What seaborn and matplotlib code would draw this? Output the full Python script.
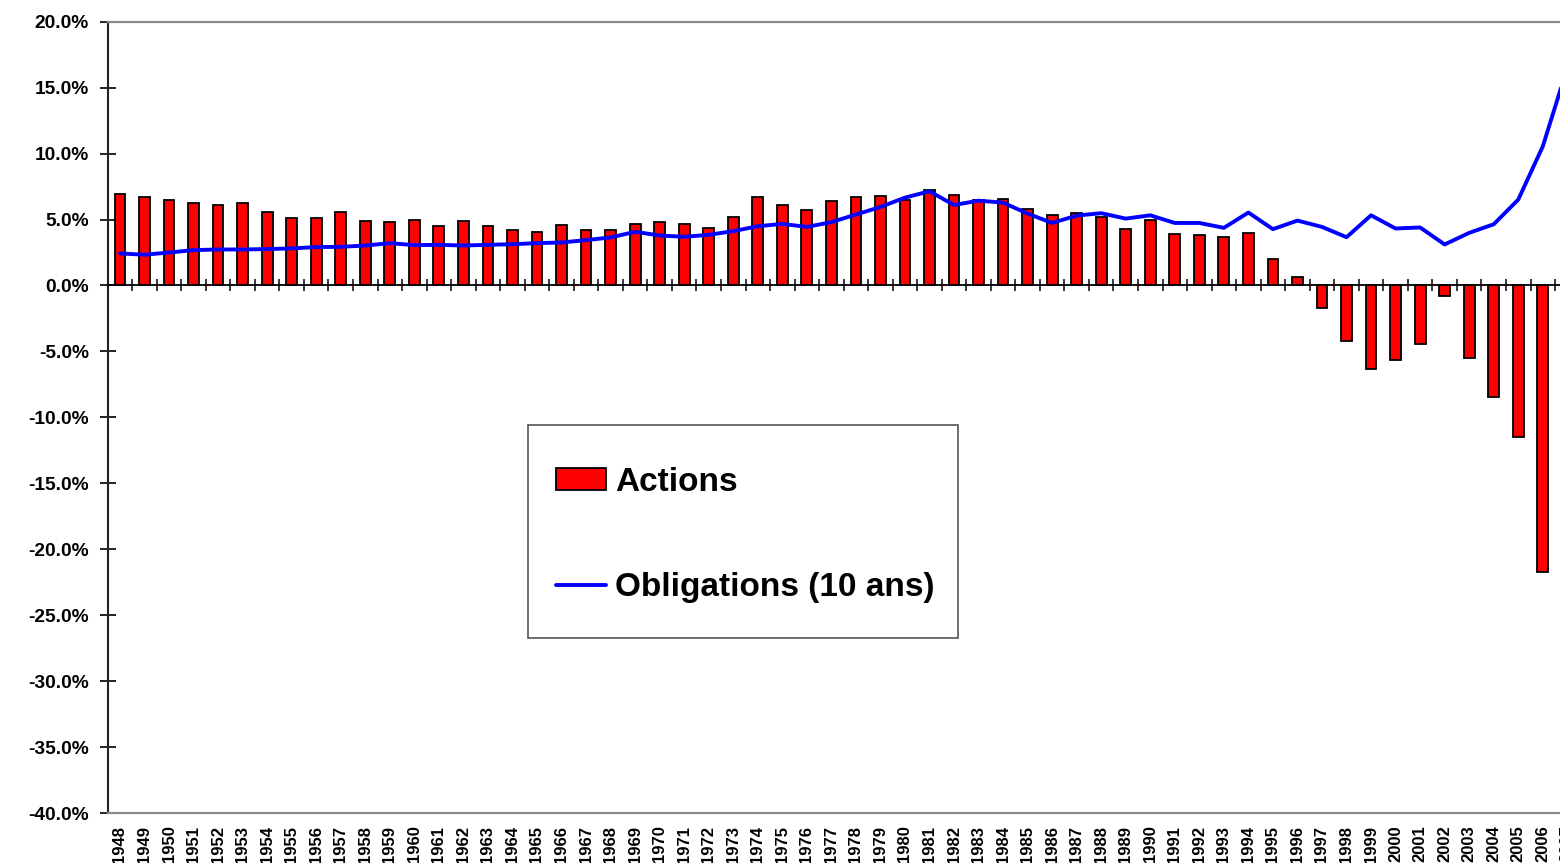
import numpy as np
import pandas as pd
import matplotlib
matplotlib.use("Agg")
import matplotlib.pyplot as plt
from matplotlib.patches import Rectangle
from matplotlib.ticker import FuncFormatter, FixedLocator
import seaborn as sns

# Années (axe des catégories)
annees = [str(a) for a in range(1948, 2008)]

# Rendement des actions (%), barres
actions = [
    6.95, 6.74, 6.47, 6.29, 6.09, 6.25, 5.54, 5.08, 5.11, 5.54,
    4.91, 4.81, 4.93, 4.51, 4.89, 4.53, 4.24, 4.09, 4.55, 4.19,
    4.17, 4.64, 4.82, 4.67, 4.37, 5.20, 6.68, 6.13, 5.75, 6.43,
    6.71, 6.81, 6.46, 7.21, 6.89, 6.46, 6.58, 5.80, 5.32, 5.53,
    5.20, 4.27, 5.00, 3.89, 3.84, 3.64, 3.99, 1.98, 0.67, -1.70,
    -4.19, -6.33, -5.63, -4.47, -0.79, -5.53, -8.45, -11.52, -21.69, np.nan,
]

# Rendement des obligations à 10 ans (%), courbe
obligations = [
    2.43, 2.33, 2.50, 2.68, 2.73, 2.73, 2.76, 2.81, 2.91, 2.93,
    3.03, 3.21, 3.06, 3.08, 3.03, 3.08, 3.13, 3.21, 3.26, 3.44,
    3.64, 4.07, 3.79, 3.69, 3.84, 4.12, 4.49, 4.67, 4.44, 4.80,
    5.38, 5.95, 6.66, 7.14, 6.10, 6.43, 6.28, 5.45, 4.74, 5.30,
    5.48, 5.07, 5.32, 4.74, 4.74, 4.37, 5.53, 4.27, 4.92, 4.44,
    3.66, 5.32, 4.32, 4.40, 3.11, 3.99, 4.64, 6.51, 10.54, 16.5,
]

y_ticks = list(range(-40, 25, 5))

df = pd.DataFrame({"annee": annees, "actions": actions, "obligations": obligations})
pos = np.arange(len(annees))

sns.set_style("white")
plt.rcParams["font.family"] = ["Liberation Sans", "DejaVu Sans"]
plt.rcParams["font.weight"] = "bold"
for key in ["text.color", "axes.labelcolor", "xtick.color", "ytick.color"]:
    plt.rcParams[key] = "black"

W, H = 1560, 863
fig = plt.figure(figsize=(W / 100, H / 100), dpi=100)
ax = fig.add_axes([0.06904, 0.0578, 0.9435, 0.9171])

sns.barplot(data=df, x="annee", y="actions", color="#FF0000", saturation=1,
            edgecolor="black", linewidth=1.3, width=0.44, label="Actions",
            legend=False, ax=ax)
sns.lineplot(x=pos, y=df["obligations"].to_numpy(), color="#0000FF", linewidth=2.8,
             label="Obligations (10 ans)", legend=False, ax=ax)
if ax.get_legend() is not None:
    ax.get_legend().remove()

ax.set_xlim(-0.5, len(annees) - 0.5)
ax.set_ylim(-40, 20)
ax.set_xlabel("")
ax.set_ylabel("")

# Axe vertical
ax.yaxis.set_major_locator(FixedLocator(y_ticks))
ax.yaxis.set_major_formatter(FuncFormatter(lambda v, p: f"{v:.1f}%"))
ax.tick_params(axis="y", direction="inout", length=11, width=1.2, color="black",
               labelcolor="black", pad=8, labelsize=13.8, left=True)
for lab in ax.get_yticklabels():
    lab.set_fontweight("bold")

# Étiquettes des années en bas du graphique
ax.set_xticks(pos)
ax.set_xticklabels(annees, rotation=90, fontsize=12, fontweight="bold", color="black")
ax.tick_params(axis="x", length=0, pad=9, bottom=True)

for side in ["top", "bottom", "right"]:
    ax.spines[side].set_color("#8a8a8a")
    ax.spines[side].set_linewidth(1.6)
ax.spines["left"].set_color("#222222")
ax.spines["left"].set_linewidth(1.5)

# Ligne du zéro avec graduations entre les catégories
ax0 = ax.twiny()
ax0.set_xlim(ax.get_xlim())
ax0.patch.set_visible(False)
for side in ["top", "left", "right"]:
    ax0.spines[side].set_visible(False)
ax0.spines["bottom"].set_position(("data", 0))
ax0.spines["bottom"].set_color("black")
ax0.spines["bottom"].set_linewidth(1.3)
ax0.xaxis.set_ticks_position("bottom")
ax0.set_xticks(pos[1:] - 0.5)
ax0.tick_params(axis="x", direction="inout", length=8, width=1.1, color="black",
                labelbottom=False, labeltop=False, top=False)

# Légende : cadre puis entrées
cadre = Rectangle((528.3 / W, 1 - 637.7 / H), (957.7 - 528.3) / W, (637.7 - 425) / H,
                  transform=fig.transFigure, facecolor="white", edgecolor="#555555",
                  linewidth=1.2, zorder=4)
fig.add_artist(cadre)

handles, labels = ax.get_legend_handles_labels()
ordre = [labels.index("Actions"), labels.index("Obligations (10 ans)")]
leg = fig.legend([handles[i] for i in ordre], [labels[i] for i in ordre],
                 loc="upper left", bbox_to_anchor=(556 / W, 1 - 467 / H),
                 bbox_transform=fig.transFigure, borderaxespad=0, borderpad=0,
                 prop={"family": "Liberation Sans", "weight": "bold", "size": 24},
                 frameon=False, labelspacing=2.22, handlelength=1.5,
                 handleheight=0.62, handletextpad=0.28)
leg.set_zorder(5)
for line in leg.get_lines():
    line.set_linewidth(2.8)
for t in leg.get_texts():
    t.set_color("black")

fig.savefig("out.png", dpi=100)
